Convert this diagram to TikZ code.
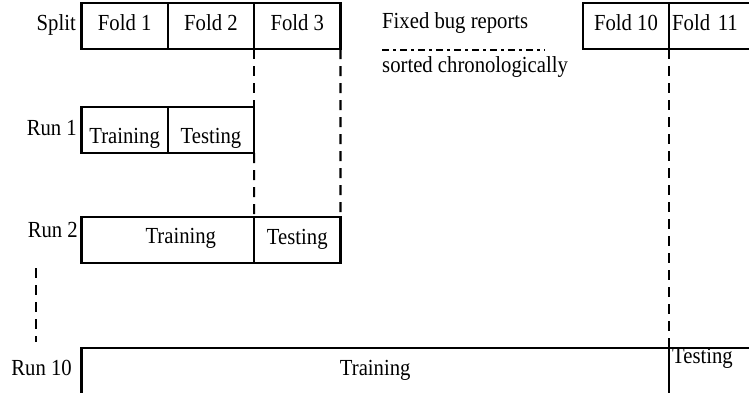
\documentclass[tikz,border=0pt]{standalone}
\usepackage{fontspec}
\setmainfont{Liberation Serif}[FakeStretch=0.9]
\usetikzlibrary{positioning}

\tikzset{
  cell/.style={draw, line width=2.2pt, minimum height=46pt, inner sep=0pt, outer sep=0pt, text height=8pt, text depth=0pt},
  fold/.style={cell, minimum width=86.3pt},
  lowtext/.style={text height=26pt},
  runlabel/.style={anchor=base east, inner sep=0pt},
  note/.style={anchor=base west, inner sep=0pt},
  guide/.style={line width=2.2pt, dash pattern=on 10pt off 7pt},
}

\begin{document}
\begin{tikzpicture}[x=1pt, y=-1pt, font=\fontsize{23}{27}\selectfont]
    \useasboundingbox (0,0) rectangle (749,392);

    % split of the reports
    \node[runlabel] (split) at (76,30) {Split};
    \node[fold] (f1) at (124.65,26) {Fold 1};
    \node[fold, right=0pt of f1] (f2) {Fold 2};
    \node[fold, right=0pt of f2] (f3) {Fold 3};
    \node[fold, minimum width=86pt] (f10) at (626,26) {Fold 10};
    \node[fold, right=0pt of f10, text width=80pt, align=left] (f11) {Fold 11};

    \node[note] (fixed) at (382,28) {Fixed bug reports};
    \node[note] (sorted) at (382,72) {sorted chronologically};
    \coordinate (sepl) at (382,50);
    \coordinate (sepr) at (545,50);
    \draw[line width=2pt, dash pattern=on 7pt off 4pt on 3pt off 4pt] (sepl) -- (sepr);

    % runs
    \node[runlabel] (run1) at (77,135) {Run 1};
    \node[fold, lowtext] (r1train) at (124.65,130) {Training};
    \node[fold, lowtext, right=0pt of r1train] (r1test) {Testing};

    \node[runlabel] (run2) at (78,237) {Run 2};
    \node[cell, minimum width=172.6pt, text height=6pt] (r2train) at (167.8,240) {\hspace*{26pt}Training};
    \node[fold, right=0pt of r2train] (r2test) {Testing};

    \node[runlabel] (run10) at (72,375) {Run 10};
    \node[cell, minimum width=587.5pt] (r10train) at (375.25,371) {Training};
    \node[fold, right=0pt of r10train, text width=80pt, align=left, text height=0pt, text depth=16pt] (r10test) {Testing};

    % guides
    \coordinate (vtop) at (36,268);
    \coordinate (vbot) at (36,342);
    \draw[guide] (f3.south west) -- (r1test.north east);
    \draw[guide] (r1test.south east) -- (r2test.north west);
    \draw[guide] (f3.south east) -- (r2test.north east);
    \draw[guide] (f10.south east) -- (r10test.north west);
    \draw[guide] (vtop) -- (vbot);
\end{tikzpicture}
\end{document}
